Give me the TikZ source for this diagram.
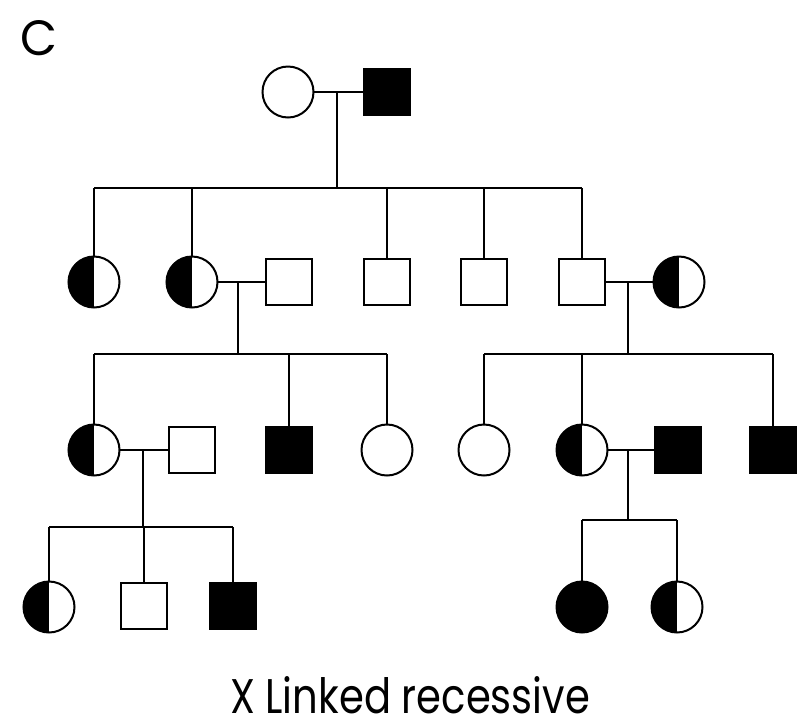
\documentclass[tikz,border=0pt]{standalone}
\usepackage{fontspec}
\setmainfont{Poppins}
\begin{document}
\begin{tikzpicture}[x=1pt,y=-1pt,
  every node/.style={inner sep=0pt, outer sep=0pt},
  lw/.style={line width=2pt},
  female/.style={circle, draw, lw, minimum size=51pt},
  male/.style={rectangle, draw, lw, minimum size=46pt},
  affected/.style={fill=black},
  carrier/.style={female, path picture={\fill[black] (path picture bounding box.south west) rectangle (path picture bounding box.north);}},
  link/.style={lw, line cap=rect}]
\useasboundingbox (0,0) rectangle (799,724);

% panel letter
\node[anchor=base west] (panel) at (20,55) {\resizebox{37pt}{35pt}{C}};

% generation I
\node[female] (w1) at (288,92) {};
\node[male, affected] (m1) at (387,92) {};

% generation II
\node[carrier] (f1) at (94,282) {};
\node[carrier] (f2) at (192,282) {};
\node[male] (m2) at (289,282) {};
\node[male] (m3) at (387,282) {};
\node[male] (m4) at (484,282) {};
\node[male] (m5) at (582,282) {};
\node[carrier] (f3) at (679,282) {};

% generation III
\node[carrier] (f4) at (94,450) {};
\node[male] (m6) at (192,450) {};
\node[male, affected] (m7) at (289,450) {};
\node[female] (f5) at (387,450) {};
\node[female] (f6) at (484,450) {};
\node[carrier] (f7) at (582,450) {};
\node[male, affected] (m8) at (678,450) {};
\node[male, affected] (m9) at (773,450) {};

% generation IV
\node[carrier] (f8) at (49,607) {};
\node[male] (m10) at (144,606) {};
\node[male, affected] (m11) at (233,606) {};
\node[female, affected] (f9) at (582,607) {};
\node[carrier] (f10) at (677,607) {};

% couple and sibship points
\coordinate (c1) at (337,92);  \coordinate (s1) at (337,188);
\coordinate (c2) at (238,282); \coordinate (s2) at (238,354);
\coordinate (c3) at (628,282); \coordinate (s3) at (628,354);
\coordinate (c4) at (143,450); \coordinate (s4) at (143,527);
\coordinate (c5) at (628,450); \coordinate (s5) at (628,520);

% generation I family
\draw[lw] (w1.east) -- (m1.west);
\draw[lw] (c1) -- (s1);
\draw[lw] (f1.north |- s1) -- (m5.north |- s1);
\foreach \k in {f1,f2,m3,m4,m5} \draw[lw] (\k.north |- s1) -- (\k.north);

% family of f2 and m2
\draw[lw] (f2.east) -- (m2.west);
\draw[lw] (c2) -- (s2);
\draw[lw] (f4.north |- s2) -- (f5.north |- s2);
\foreach \k in {f4,m7,f5} \draw[lw] (\k.north |- s2) -- (\k.north);

% family of m5 and f3
\draw[lw] (m5.east) -- (f3.west);
\draw[lw] (c3) -- (s3);
\draw[lw] (f6.north |- s3) -- (m9.north |- s3);
\foreach \k in {f6,f7,m9} \draw[lw] (\k.north |- s3) -- (\k.north);

% family of f4 and m6
\draw[lw] (f4.east) -- (m6.west);
\draw[lw] (c4) -- (s4);
\draw[lw] (f8.north |- s4) -- (m11.north |- s4);
\foreach \k in {f8,m10,m11} \draw[lw] (\k.north |- s4) -- (\k.north);

% family of f7 and m8
\draw[lw] (f7.east) -- (m8.west);
\draw[lw] (c5) -- (s5);
\draw[lw] (f9.north |- s5) -- (f10.north |- s5);
\foreach \k in {f9,f10} \draw[lw] (\k.north |- s5) -- (\k.north);

% caption
\node[anchor=base] (caption) at (410,713) {\resizebox{360pt}{37pt}{X Linked recessive}};
\end{tikzpicture}
\end{document}
